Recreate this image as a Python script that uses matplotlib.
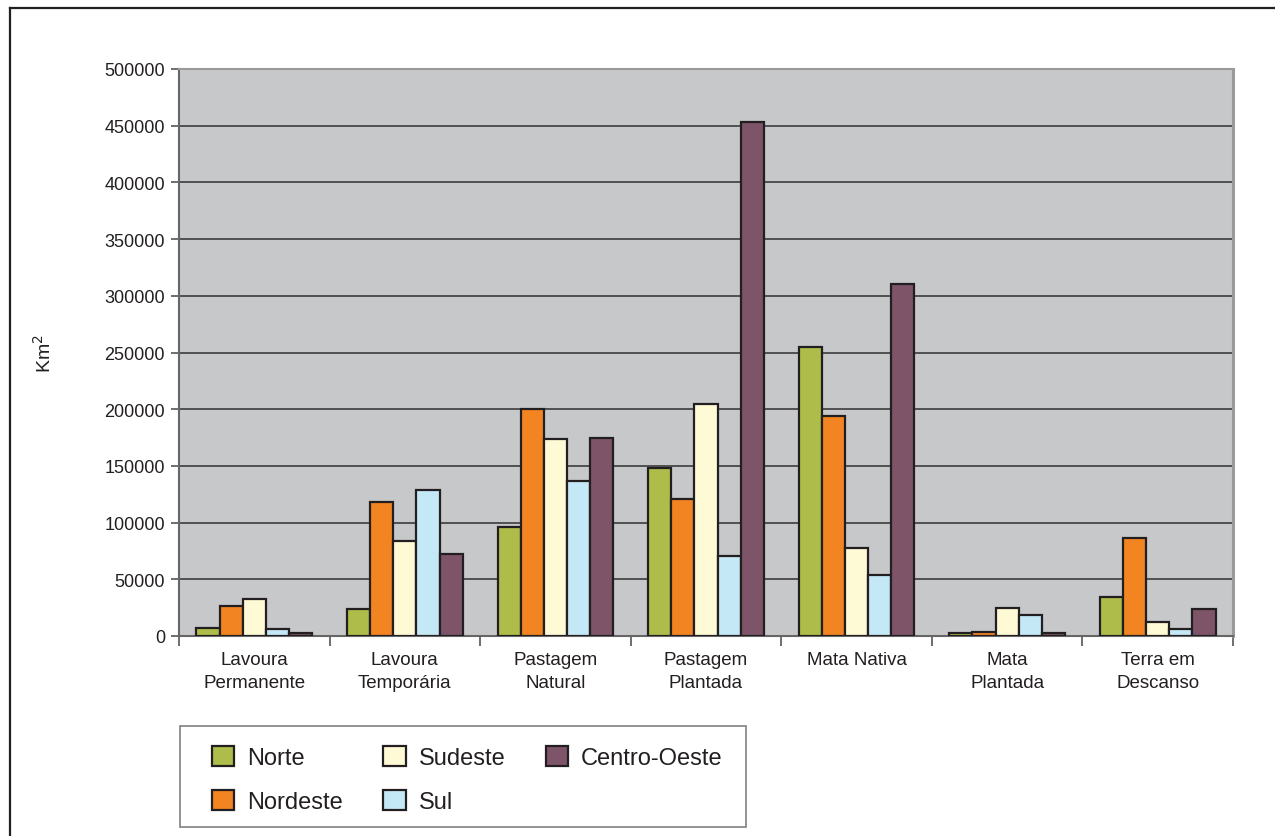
import numpy as np
import matplotlib
matplotlib.use("Agg")
import matplotlib.pyplot as plt
from matplotlib.lines import Line2D
from matplotlib.patches import Rectangle

plt.rcParams['font.family'] = ['Liberation Sans', 'DejaVu Sans']

# -----
# Data
# -----

categories = ["Lavoura\nPermanente", "Lavoura\nTemporária", "Pastagem\nNatural",
              "Pastagem\nPlantada", "Mata Nativa", "Mata\nPlantada", "Terra em\nDescanso"]
regions = ["Norte", "Nordeste", "Sudeste", "Sul", "Centro-Oeste"]

norte = [7000, 24000, 96000, 148000, 255000, 2500, 34000]
nordeste = [26500, 118000, 200000, 121000, 194000, 3500, 86000]
sudeste = [33000, 84000, 173500, 204500, 77500, 25000, 12500]
sul = [6500, 128500, 137000, 70500, 53500, 18500, 6000]
centro_oeste = [2500, 72500, 174500, 453000, 310000, 3000, 24000]

y_ticks = [0, 50000, 100000, 150000, 200000, 250000, 300000, 350000, 400000, 450000, 500000]

# -------
# Styles
# -------

colors = ["#aebc4a", "#f28421", "#fffad6", "#c5e8f7", "#7d5468"]
edge = "#231f20"
bg = "#c7c8ca"

series = [norte, nordeste, sudeste, sul, centro_oeste]

W, H = 1275, 837
fig = plt.figure(figsize=(W / 100, H / 100), dpi=100)
ax = fig.add_axes([179/W, 1 - 637/H, (1233 - 179)/W, (637 - 70)/H])
ax.set_facecolor(bg)

# Excel-like clustered bars, gap width 150%
width = 1 / 6.5
x = np.arange(len(categories))
for i, (vals, name) in enumerate(zip(series, regions)):
    offset = (i - 2) * width
    ax.bar(x + offset, vals, width=width, color=colors[i], edgecolor=edge,
           linewidth=1.6, label=name, zorder=3)

ax.set_xlim(-0.5, len(categories) - 0.5)
ax.set_ylim(0, 500000)
ax.set_yticks(y_ticks)
ax.set_yticklabels([str(v) for v in y_ticks], fontsize=13, color="#231f20")
ax.yaxis.grid(True, color="#3c3c3c", linewidth=1.2, zorder=1)
ax.set_axisbelow(True)

# category labels at centres, tick marks at group boundaries
ax.set_xticks(x)
ax.set_xticklabels(categories, fontsize=13.5, color="#231f20", linespacing=1.45)
ax.tick_params(axis='x', which='major', length=0, pad=11)
ax.set_xticks(np.arange(-0.5, len(categories)), minor=True)
ax.tick_params(axis='x', which='minor', length=7, width=1.2, color="#555555")
ax.tick_params(axis='y', length=6, width=1.2, color="#555555", pad=4)

for s in ["left", "bottom"]:
    ax.spines[s].set_color("#666666")
    ax.spines[s].set_linewidth(1.5)
ax.spines["top"].set_color("#9a9a9a")
ax.spines["top"].set_linewidth(1.5)
ax.spines["right"].set_color("#9a9a9a")
ax.spines["right"].set_linewidth(2.2)

ax.set_ylabel("Km$^2$", fontsize=14, color="#231f20", labelpad=36)

# legend box drawn separately, entries filled column-wise
fig.add_artist(Rectangle((180/W, 1 - 828/H), 566/W, 101/H, transform=fig.transFigure,
                         facecolor="white", edgecolor="#808080", linewidth=1.2))
leg = fig.legend(loc="upper left", bbox_to_anchor=(212/W, 1 - 747/H),
                 ncol=3, fontsize=17, frameon=False,
                 handlelength=0.95, handleheight=0.95,
                 handletextpad=0.55, columnspacing=1.7, labelspacing=0.88,
                 borderpad=0, borderaxespad=0)
for t in leg.get_texts():
    t.set_color("#231f20")

# outer frame (top and left edges only visible)
fig.add_artist(Line2D([10/W, 10/W], [0, 1 - 9/H], transform=fig.transFigure,
                      color=edge, linewidth=1.6))
fig.add_artist(Line2D([10/W, 1], [1 - 9/H, 1 - 9/H], transform=fig.transFigure,
                      color=edge, linewidth=1.6))

fig.savefig("out.png", dpi=100)
